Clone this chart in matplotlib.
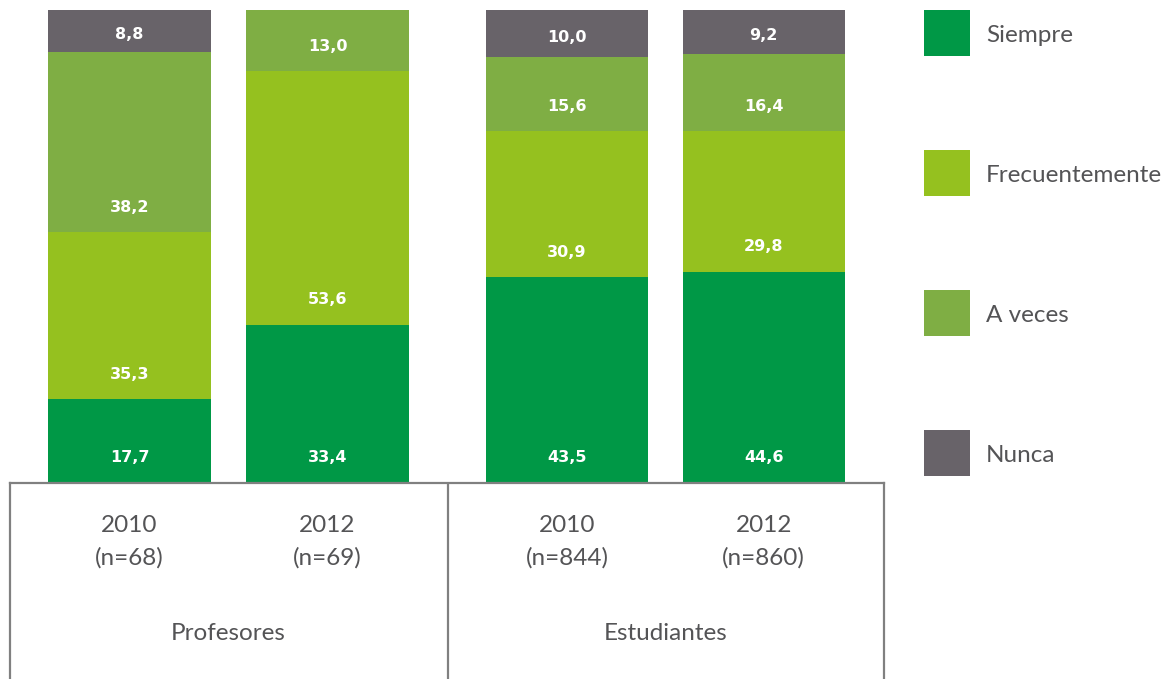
import numpy as np
import matplotlib
matplotlib.use("Agg")
import matplotlib.pyplot as plt
from matplotlib.patches import Rectangle

plt.rcParams['font.family'] = ['Lato', 'DejaVu Sans']

# datos (%)
grupos = ["Profesores", "Estudiantes"]
anios = ["2010", "2012", "2010", "2012"]
muestras = ["(n=68)", "(n=69)", "(n=844)", "(n=860)"]
categorias = ["Siempre", "Frecuentemente", "A veces", "Nunca"]
siempre = [17.7, 33.4, 43.5, 44.6]
frecuentemente = [35.3, 53.6, 30.9, 29.8]
a_veces = [38.2, 13.0, 15.6, 16.4]
nunca = [8.8, 0.0, 10.0, 9.2]

colores = ["#009846", "#95c11f", "#7fae44", "#686369"]
gris_txt = "#545456"
gris_lin = "#808080"

W, H = 1174, 679
fig = plt.figure(figsize=(W / 100, H / 100), dpi=100)

x = np.array([0, 1.004, 2.218, 3.215])
xlim = (-0.606, 3.825)
base_px = 483

ax = fig.add_axes([10 / W, (H - base_px) / H, 874 / W, 473 / H])
ax.set_xlim(*xlim)
ax.set_ylim(0, 100)
ax.axis("off")

series = [siempre, frecuentemente, a_veces, nunca]
bottom = np.zeros(len(x))
for vals, col in zip(series, colores):
    vals = np.array(vals)
    ax.bar(x, vals, width=0.822, bottom=bottom, color=col, linewidth=0)
    for xi, b, v in zip(x, bottom, vals):
        if v <= 0:
            continue
        off = min(5.3, 0.42 * v)
        ax.text(xi, b + off, f"{v:.1f}".replace(".", ","), ha="center", va="center",
                color="white", fontsize=11.5, fontweight="bold", family="DejaVu Sans")
    bottom += vals

# tabla de categorías bajo las barras
tab = fig.add_axes([10 / W, 0, 874 / W, (H - base_px) / H])
tab.set_xlim(*xlim)
tab.set_ylim(H - base_px, 0)
tab.set_xticks([])
tab.set_yticks([])
for s in ["top", "left", "right"]:
    tab.spines[s].set_color(gris_lin)
    tab.spines[s].set_linewidth(1.6)
tab.spines["bottom"].set_visible(False)
tab.axvline((x[1] + x[2]) / 2 + 0.004, color=gris_lin, lw=1.6)

fs = 17.5
for xi, a, n in zip(x, anios, muestras):
    tab.text(xi, 43, a, ha="center", va="center", fontsize=fs, color=gris_txt)
    tab.text(xi, 75, n, ha="center", va="center", fontsize=fs, color=gris_txt)
for i, g in enumerate(grupos):
    tab.text(x[2 * i:2 * i + 2].mean(), 150, g, ha="center", va="center",
             fontsize=fs, color=gris_txt)

# leyenda
for i, (cat, col) in enumerate(zip(categorias, colores)):
    top = 10 + 140 * i
    fig.patches.append(Rectangle((924 / W, (H - top - 46) / H), 46 / W, 46 / H,
                                 transform=fig.transFigure, color=col, lw=0))
    fig.text(986 / W, (H - top - 25) / H, cat, ha="left", va="center",
             fontsize=fs, color=gris_txt)

fig.savefig("out.png", dpi=100)
